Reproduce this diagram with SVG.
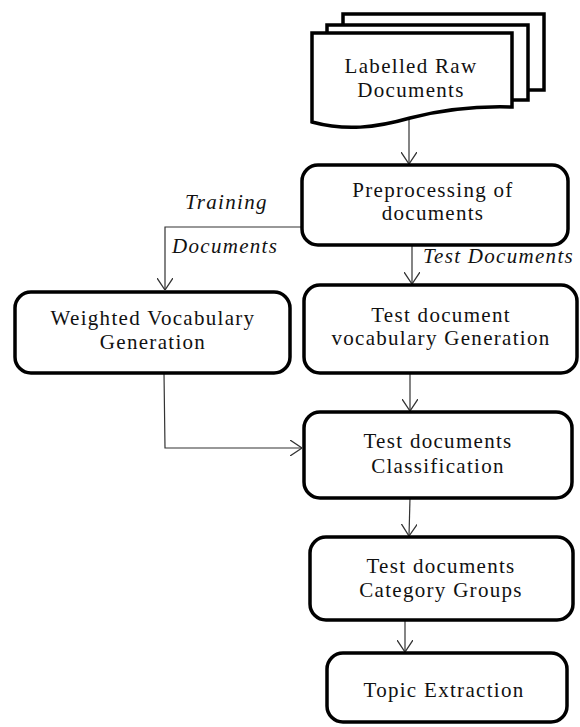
<svg xmlns="http://www.w3.org/2000/svg" width="580" height="727" viewBox="0 0 580 727">
<style>
.box{fill:#fff;stroke:#000;stroke-width:3.5}
.page{fill:#fff;stroke:#000;stroke-width:3.5;stroke-linejoin:miter}
.t{font-family:"Liberation Serif","Times New Roman",serif;font-size:21px;fill:#111;text-anchor:middle;letter-spacing:1.3px}
.lbl{font-family:"Liberation Serif","Times New Roman",serif;font-size:21px;font-style:italic;fill:#111;letter-spacing:1.3px}
.c{fill:none;stroke:#333;stroke-width:1.2}
</style>
<defs>
<marker id="arr" viewBox="0 0 12 16" refX="12" refY="8" markerWidth="12" markerHeight="16" markerUnits="userSpaceOnUse" orient="auto">
<path d="M0,0 L12,8 L0,16" fill="none" stroke="#333" stroke-width="1.3"/>
</marker>
</defs>
<rect width="580" height="727" fill="#fff"/>
<g id="connectors">
<path class="c" d="M409,119 L409,164" marker-end="url(#arr)"/>
<path class="c" d="M302,227 L165,227 L165,290" marker-end="url(#arr)"/>
<path class="c" d="M412,245 L412,284" marker-end="url(#arr)"/>
<path class="c" d="M410,374 L410,411" marker-end="url(#arr)"/>
<path class="c" d="M164,373 L165,448 L302,448" marker-end="url(#arr)"/>
<path class="c" d="M410,498 L409,536" marker-end="url(#arr)"/>
<path class="c" d="M405,620 L405,652" marker-end="url(#arr)"/>
</g>
<g id="raw-docs">
<rect class="page" x="343" y="14" width="201" height="76"/>
<rect class="page" x="327" y="25" width="201" height="75"/>
<path class="page" d="M312,33 L512,33 L512,107 C480,106 445,109 410,118 C375,128 345,131 312,122 Z"/>
<text class="t" x="411" y="73">Labelled Raw</text>
<text class="t" x="411" y="97">Documents</text>
</g>
<g id="preprocessing">
<rect class="box" x="302" y="165" width="266" height="80" rx="16"/>
<text class="t" x="433" y="197">Preprocessing of</text>
<text class="t" x="433" y="220">documents</text>
</g>
<g id="labels">
<text class="lbl" x="185" y="209">Training</text>
<text class="lbl" x="172" y="253">Documents</text>
<text class="lbl" x="423" y="263">Test Documents</text>
</g>
<g id="weighted-vocab">
<rect class="box" x="15" y="292" width="275" height="81" rx="16"/>
<text class="t" x="153" y="325">Weighted Vocabulary</text>
<text class="t" x="153" y="349">Generation</text>
</g>
<g id="test-vocab">
<rect class="box" x="304" y="285" width="273" height="88" rx="16"/>
<text class="t" x="441" y="322">Test document</text>
<text class="t" x="441" y="345">vocabulary Generation</text>
</g>
<g id="classification">
<rect class="box" x="304" y="412" width="268" height="86" rx="16"/>
<text class="t" x="438" y="448">Test documents</text>
<text class="t" x="438" y="473">Classification</text>
</g>
<g id="category-groups">
<rect class="box" x="310" y="537" width="263" height="83" rx="16"/>
<text class="t" x="441" y="573">Test documents</text>
<text class="t" x="441" y="597">Category Groups</text>
</g>
<g id="topic-extraction">
<rect class="box" x="327" y="653" width="240" height="69" rx="16"/>
<text class="t" x="444" y="697">Topic Extraction</text>
</g>
</svg>
